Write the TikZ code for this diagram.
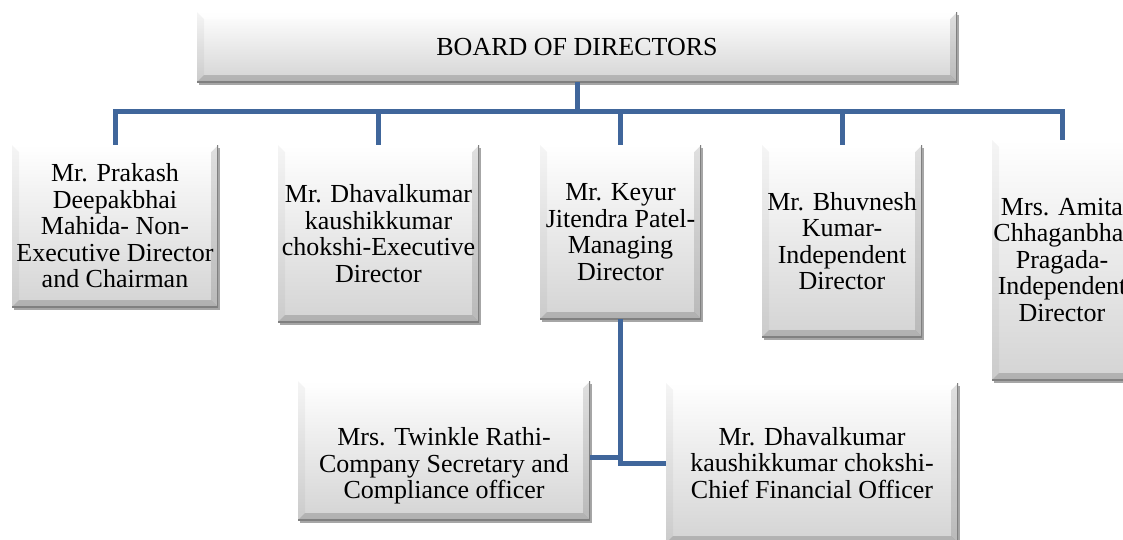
\documentclass[tikz,border=0pt]{standalone}
\usepackage{fontspec}
\setmainfont{Liberation Serif}
\usetikzlibrary{shadows,calc}
\definecolor{connblue}{RGB}{64,102,155}
\newcommand\bxfont{\fontsize{26}{26.5}\selectfont}
\tikzset{
  box/.style={rectangle, inner sep=0pt, align=center, font=\bxfont,
    top color=white, bottom color=black!17,
    drop shadow={shadow xshift=1.5pt,shadow yshift=-2.5pt,opacity=.35,fill=black},
    path picture={
      \coordinate (ppsw) at (path picture bounding box.south west);
      \coordinate (ppne) at (path picture bounding box.north east);
      \coordinate (ppnw) at (path picture bounding box.north west);
      \coordinate (ppse) at (path picture bounding box.south east);
      \fill[black,opacity=.16] (ppsw) -- (ppse) -- ($(ppse)+(-7pt,7pt)$) -- ($(ppsw)+(7pt,7pt)$) -- cycle;
      \fill[black,opacity=.12] (ppse) -- (ppne) -- ($(ppne)+(-7pt,-7pt)$) -- ($(ppse)+(-7pt,7pt)$) -- cycle;
      \fill[white,opacity=.6] (ppnw) -- (ppne) -- ($(ppne)+(-7pt,-7pt)$) -- ($(ppnw)+(7pt,-7pt)$) -- cycle;
      \fill[black,opacity=.04] (ppsw) -- (ppnw) -- ($(ppnw)+(7pt,-7pt)$) -- ($(ppsw)+(7pt,7pt)$) -- cycle;
      \draw[black!50,line width=2pt] (ppne) -- (ppse) -- (ppsw);
    }},
  txt/.style={inner sep=0pt, align=center, font=\bxfont},
  conn/.style={line width=5pt, draw=connblue}
}
\begin{document}
\begin{tikzpicture}[x=1pt,y=-1pt]
\useasboundingbox[fill=white] (0,0) rectangle (1123,539);
% boxes
\node[box, minimum width=760pt, minimum height=70pt] (bod) at (577,47) {BOARD OF DIRECTORS};
\node[box, minimum width=206pt, minimum height=162pt] (d1) at (115,226)
  {Mr. Prakash\\Deepakbhai\\Mahida- Non-\\Executive Director\\and Chairman};
\node[box, minimum width=201pt, minimum height=177pt] (d2) at (378.5,233.5)
  {Mr. Dhavalkumar\\kaushikkumar\\chokshi-Executive\\Director};
\node[box, minimum width=161pt, minimum height=174pt] (d3) at (620.5,232)
  {Mr. Keyur\\Jitendra Patel-\\Managing\\Director};
\node[box, minimum width=160pt, minimum height=192pt] (d4) at (842,241)
  {Mr. Bhuvnesh\\Kumar-\\Independent\\Director};
\node[box, minimum width=140pt, minimum height=240pt] (d5) at (1062,260)
  {Mrs. Amita\\Chhaganbhai\\Pragada-\\Independent\\Director};
\node[box, minimum width=292pt, minimum height=139pt] (cs) at (444,450.5) {};
\node[txt] (cstext) at (444,466)
  {Mrs. Twinkle Rathi-\\Company Secretary and\\Compliance officer};
\node[box, minimum width=292pt, minimum height=160pt] (cfo) at (812,463)
  {Mr. Dhavalkumar\\kaushikkumar chokshi-\\Chief Financial Officer};
% connectors
\coordinate (bus) at (577,111);
\coordinate (j) at (620.5,457);
\coordinate (k) at (620.5,463);
\draw[conn] (bod.south) -- (bod.south |- bus);
\draw[conn] (d1.north) -- (d1.north |- bus) -- (d5.north |- bus) -- (d5.north);
\draw[conn] (d2.north) -- (d2.north |- bus);
\draw[conn] (d3.north) -- (d3.north |- bus);
\draw[conn] (d4.north) -- (d4.north |- bus);
\draw[conn] (d3.south) -- (k) -- (cfo.west |- k);
\draw[conn] (cs.east |- j) -- (j);
\end{tikzpicture}
\end{document}
